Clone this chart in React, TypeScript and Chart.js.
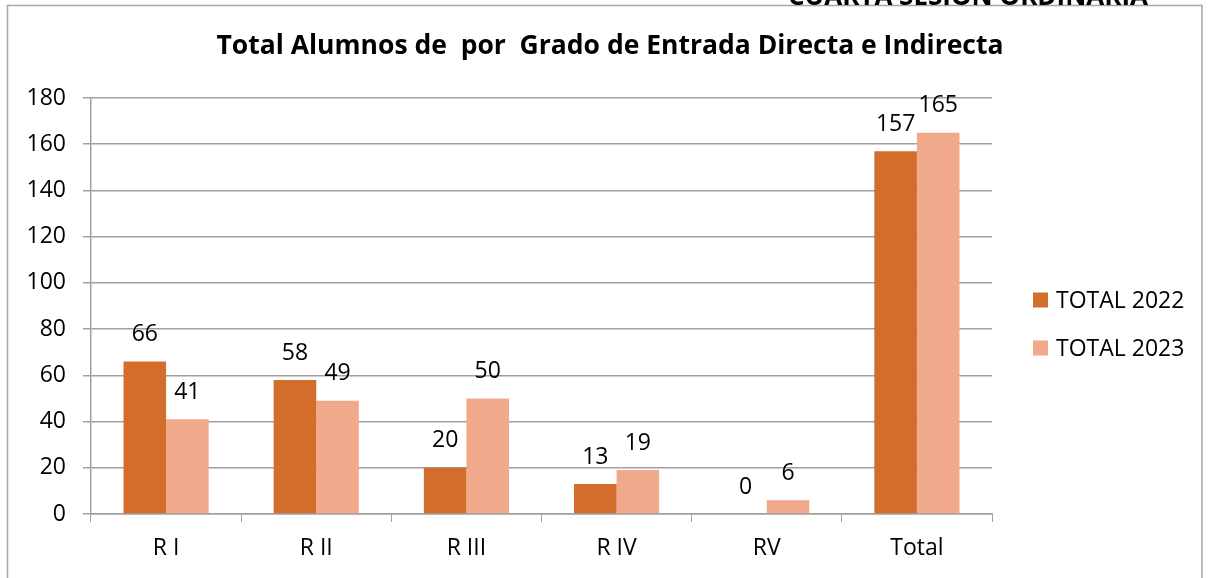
import React, { useEffect, useRef } from "react";
import { Chart, registerables } from "chart.js";

Chart.register(...registerables);

const categories = ["R I", "R II", "R III", "R IV", "RV", "Total"];
const total2022 = [66, 58, 20, 13, 0, 157];
const total2023 = [41, 49, 50, 19, 6, 165];
const seriesLabels = ["TOTAL 2022", "TOTAL 2023"];
const seriesColors = ["#D26D2C", "#F0A98A"];
const yTicks = [0, 20, 40, 60, 80, 100, 120, 140, 160, 180];
const titleText = "Total Alumnos de  por  Grado de Entrada Directa e Indirecta";
const headerText = "CUARTA SESION ORDINARIA";

const FONT = "'Open Sans', 'Noto Sans', sans-serif";

const decorPlugin = {
  id: "decor",
  beforeDraw(chart: any) {
    const ctx = chart.ctx;
    ctx.save();
    ctx.fillStyle = "#ffffff";
    ctx.fillRect(0, 0, chart.width, chart.height);
    ctx.strokeStyle = "#A6A6A6";
    ctx.lineWidth = 1.5;
    ctx.strokeRect(7.5, 5.5, 1194.5, 700);
    ctx.restore();
  },
  afterDraw(chart: any) {
    const ctx = chart.ctx;
    const area = chart.chartArea;
    ctx.save();
    // header (cut off at top)
    ctx.fillStyle = "#000";
    ctx.font = `bold 26px ${FONT}`;
    ctx.textAlign = "left";
    ctx.textBaseline = "alphabetic";
    ctx.fillText(headerText, 788, 5);
    // title
    ctx.font = `bold 26.5px ${FONT}`;
    ctx.textAlign = "center";
    ctx.textBaseline = "middle";
    ctx.fillText(titleText, 610, 46);
    // data labels
    ctx.font = `23px ${FONT}`;
    chart.data.datasets.forEach((ds: any, i: number) => {
      const meta = chart.getDatasetMeta(i);
      meta.data.forEach((bar: any, j: number) => {
        ctx.fillText(String(ds.data[j]), bar.x, bar.y - 27);
      });
    });
    // legend
    chart.data.datasets.forEach((ds: any, i: number) => {
      const cy = 300 + i * 48;
      const x0 = area.right + 41;
      ctx.fillStyle = ds.backgroundColor;
      ctx.fillRect(x0, cy - 7.5, 15, 15);
      ctx.fillStyle = "#000";
      ctx.textAlign = "left";
      ctx.textBaseline = "middle";
      ctx.font = `23px ${FONT}`;
      ctx.fillText(ds.label, x0 + 23, cy + 1);
    });
    ctx.restore();
  },
};

export default function App() {
  const ref = useRef<HTMLCanvasElement>(null);
  useEffect(() => {
    if (!ref.current) return;
    const chart = new Chart(ref.current, {
      type: "bar",
      data: {
        labels: categories,
        datasets: [
          { label: seriesLabels[0], data: total2022, backgroundColor: seriesColors[0] },
          { label: seriesLabels[1], data: total2023, backgroundColor: seriesColors[1] },
        ],
      },
      options: {
        animation: false,
        responsive: false,
        devicePixelRatio: 1,
        layout: { padding: { left: 0, top: 98, right: 221, bottom: 0 } },
        datasets: { bar: { categoryPercentage: 0.567, barPercentage: 1 } } as any,
        plugins: {
          legend: { display: false },
          title: { display: false },
          tooltip: { enabled: false },
        },
        scales: {
          x: {
            grid: { drawOnChartArea: false, drawTicks: true, tickLength: 8, color: "#A0A0A0", offset: true },
            border: { display: true, color: "#A0A0A0", width: 1.5 },
            ticks: { color: "#000", font: { family: FONT, size: 23 }, padding: 13, maxRotation: 0 },
            afterFit(scale: any) {
              scale.height = 64;
            },
          },
          y: {
            min: 0,
            max: 180,
            afterBuildTicks(scale: any) {
              scale.ticks = yTicks.map((v) => ({ value: v }));
            },
            grid: { color: "#A0A0A0", lineWidth: 1.5, tickLength: 8 },
            border: { display: true, color: "#A0A0A0", width: 1.5 },
            ticks: { color: "#000", font: { family: FONT, size: 23 }, padding: 17 },
            afterFit(scale: any) {
              scale.width = 91;
            },
          },
        },
      },
      plugins: [decorPlugin],
    } as any);
    return () => chart.destroy();
  }, []);
  return (
    <div style={{ position: "fixed", left: 0, top: 0, width: 1213, height: 578, background: "#fff" }}>
      <canvas ref={ref} width={1213} height={578} style={{ display: "block" }} />
    </div>
  );
}
